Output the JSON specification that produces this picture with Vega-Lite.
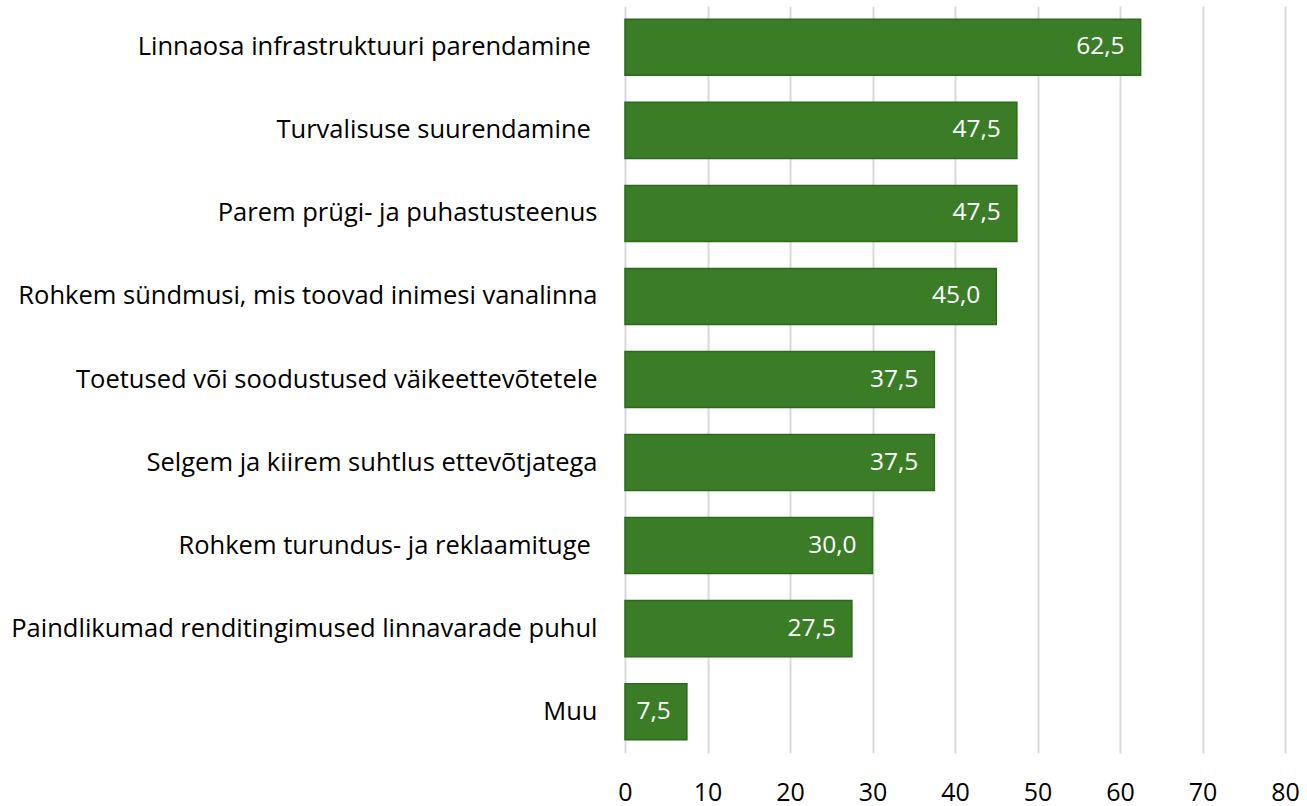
{
  "$schema": "https://vega.github.io/schema/vega-lite/v6.json",
  "autosize": {"type": "none"},
  "width": 660,
  "height": 747,
  "padding": {"left": 625, "top": 6, "right": 22, "bottom": 53},
  "background": "white",
  "config": {
    "view": {"stroke": null},
    "locale": {"number": {"decimal": ",", "thousands": " ", "grouping": [3], "currency": ["", ""]}},
    "font": "Open Sans"
  },
  "data": {"values": [
    {"kategooria": "Linnaosa infrastruktuuri parendamine\u00a0\u200b", "vaartus": 62.5},
    {"kategooria": "Turvalisuse suurendamine\u00a0\u200b", "vaartus": 47.5},
    {"kategooria": "Parem prügi- ja puhastusteenus", "vaartus": 47.5},
    {"kategooria": "Rohkem sündmusi, mis toovad inimesi vanalinna", "vaartus": 45.0},
    {"kategooria": "Toetused või soodustused väikeettevõtetele", "vaartus": 37.5},
    {"kategooria": "Selgem ja kiirem suhtlus ettevõtjatega", "vaartus": 37.5},
    {"kategooria": "Rohkem turundus- ja reklaamituge\u00a0\u200b", "vaartus": 30.0},
    {"kategooria": "Paindlikumad renditingimused linnavarade puhul", "vaartus": 27.5},
    {"kategooria": "Muu", "vaartus": 7.5}
  ]},
  "encoding": {
    "y": {
      "field": "kategooria", "type": "nominal", "sort": null,
      "scale": {"paddingInner": 0.325, "paddingOuter": 0.16},
      "axis": {"title": null, "ticks": false, "domain": false, "labelFontSize": 25.5, "labelColor": "#000000", "labelPadding": 28, "labelLimit": 700}
    },
    "x": {
      "field": "vaartus", "type": "quantitative",
      "scale": {"domain": [0, 80], "nice": false},
      "axis": {"title": null, "values": [0,10,20,30,40,50,60,70,80], "ticks": false, "domain": false, "grid": true, "gridColor": "#d9d9d9", "gridWidth": 2, "labelFontSize": 25, "labelColor": "#000000", "labelPadding": 27, "labelFlush": false}
    }
  },
  "layer": [
    {"mark": {"type": "bar", "color": "#3b7d27", "stroke": "#2c6a1e", "strokeWidth": 1.5}},
    {"mark": {"type": "text", "align": "right", "dx": -16, "color": "white", "fontSize": 24.5},
     "encoding": {"text": {"field": "vaartus", "type": "quantitative", "format": ".1f"}}}
  ]
}
